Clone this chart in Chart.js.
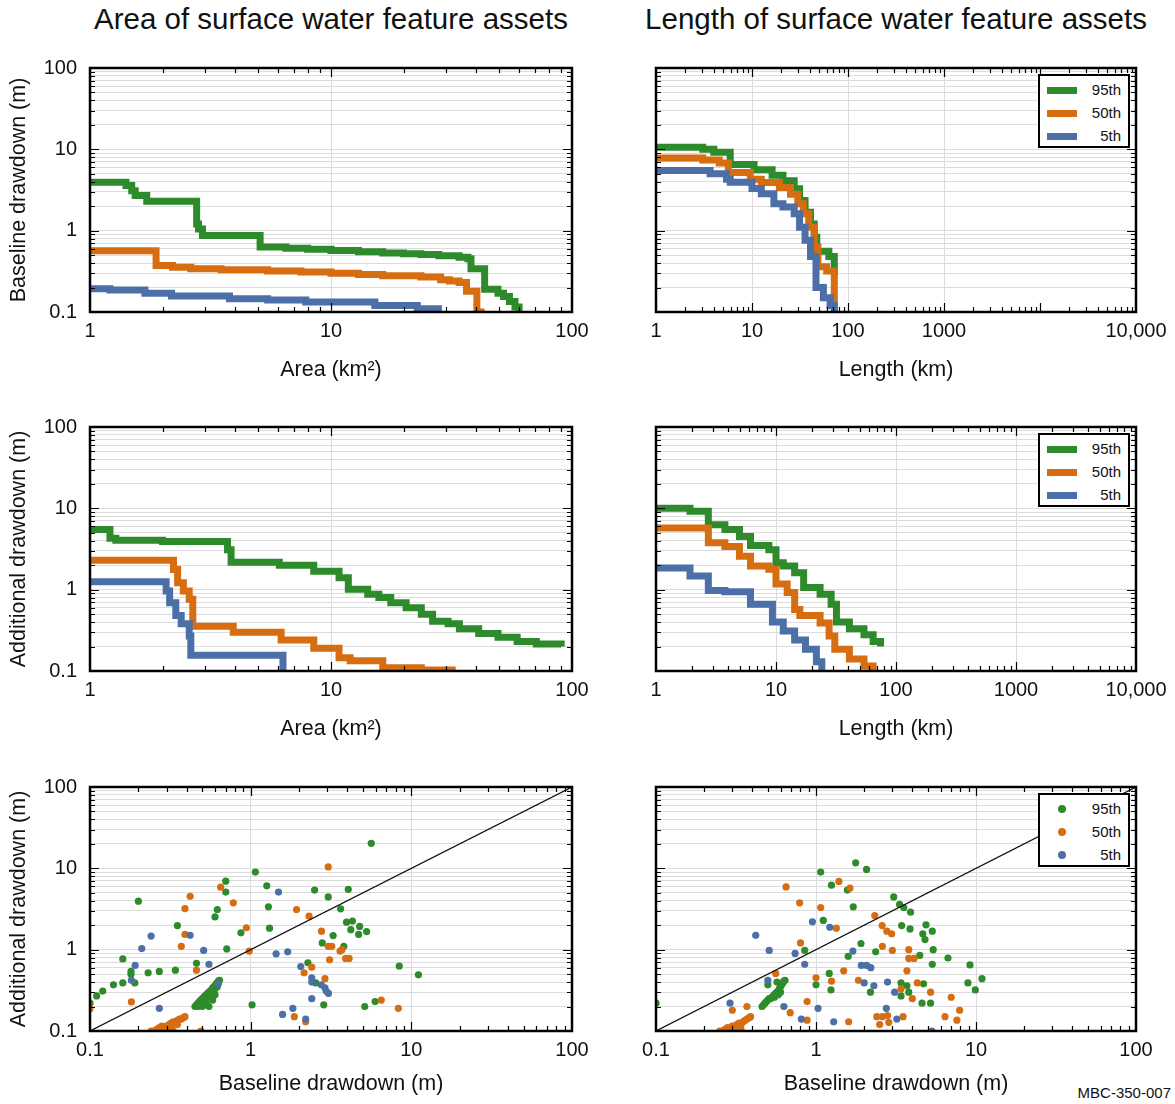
<!DOCTYPE html>
<html>
<head>
<meta charset="utf-8">
<script src="https://cdn.jsdelivr.net/npm/chart.js@4.4.1/dist/chart.umd.min.js"></script>
<style>
  body { margin: 0; background: #fff; font-family: "Liberation Sans", Arial, sans-serif; color: #111; }
  #page { position: relative; width: 1175px; height: 1104px; overflow: hidden; background: #fff; }
  .panel { position: absolute; }
  .head { position: absolute; top: 2px; font-size: 29.5px; white-space: nowrap; transform: translateX(-50%); }
  .legend { position: absolute; width: 88px; height: 70px; border: 2px solid #000; background: #fff; font-size: 15px; }
  .legend .sw { position: absolute; left: 7px; width: 30px; height: 7px; }
  .legend .dot { position: absolute; left: 18px; width: 8px; height: 8px; border-radius: 50%; }
  .legend .lb { position: absolute; right: 7px; line-height: 18px; }
  .code { position: absolute; right: 4px; top: 1084px; font-size: 15px; }
</style>
</head>
<body>
<div id="page">
  <div class="head" style="left:331px">Area of surface water feature assets</div>
  <div class="head" style="left:896px">Length of surface water feature assets</div>
  <div class="code">MBC-350-007</div>
</div>
<script>
// series
const seriesNames = ["95th", "50th", "5th"];
const seriesColors = ["#2e8b2b", "#d66d10", "#4c6fa8"];

// tick labels
const drawdownTicks = [[0.1, "0.1"], [1, "1"], [10, "10"], [100, "100"]];
const areaTicks = [[1, "1"], [10, "10"], [100, "100"]];
const lengthTicksTop = [[1, "1"], [10, "10"], [100, "100"], [1000, "1000"], [100000, "10,000"]];
const lengthTicksMid = [[1, "1"], [10, "10"], [100, "100"], [1000, "1000"], [10000, "10,000"]];

// baseline drawdown vs area (x km2, y m), stepped
const areaBase95 = [[1,3.95],[1.41,3.6],[1.49,3.1],[1.54,2.7],[1.72,2.3],[2.77,1.21],[2.82,1.05],[2.93,0.87],[5.08,0.63],[6.5,0.61],[8,0.59],[10,0.57],[13,0.55],[16.4,0.53],[20,0.52],[23.6,0.51],[28,0.49],[34,0.47],[37,0.45],[38.1,0.34],[43.4,0.19],[49.3,0.17],[52,0.155],[55,0.135],[58,0.115],[60.3,0.09]];
const areaBase50 = [[1,0.566],[1.88,0.374],[2.2,0.355],[2.62,0.34],[3.5,0.33],[5.46,0.32],[7.5,0.31],[10,0.30],[13,0.29],[16.4,0.28],[23.6,0.27],[28.5,0.25],[31,0.24],[34,0.23],[36.5,0.18],[40.3,0.1],[43.4,0.1]];
const areaBase5 = [[1,0.193],[1.21,0.187],[1.69,0.17],[2.18,0.157],[3.79,0.146],[5.46,0.14],[7.86,0.133],[15.2,0.12],[22.8,0.11],[27.9,0.09]];

// baseline drawdown vs length (x km)
const lenBase95 = [[1,10.6],[3.07,10.0],[4.0,9.2],[5.93,6.5],[10.5,5.6],[16.2,4.8],[21,4.1],[27.5,3.27],[31.3,2.35],[35.7,1.69],[40.7,1.21],[44.5,0.83],[47.3,0.56],[63.2,0.48],[72,0.28]];
const lenBase50 = [[1,7.85],[3.07,7.4],[4.56,6.8],[5.67,5.2],[9.6,4.3],[12.5,3.9],[19.3,3.4],[25.2,2.8],[30,2.14],[34.2,1.62],[39,1.1],[44.5,0.63],[48.6,0.36],[60,0.32],[72,0.05]];
const lenBase5 = [[1,5.5],[3.66,5.0],[5.43,4.3],[5.93,3.95],[10,3.3],[12.5,2.84],[16.9,2.14],[21,1.95],[27.5,1.62],[31.3,1.1],[35.7,0.76],[40.7,0.48],[46.4,0.2],[55.4,0.15],[65,0.12],[72,0.09]];

// additional drawdown vs area
const areaAdd95 = [[1,5.5],[1.21,4.3],[1.28,4.05],[2,3.9],[3.72,3.1],[3.85,2.18],[6.1,2.0],[8.48,1.69],[10.8,1.4],[11.8,1.01],[14.2,0.88],[15.8,0.8],[17.7,0.69],[20.5,0.6],[23.7,0.5],[26.4,0.41],[30.6,0.38],[34.1,0.33],[41,0.29],[49.3,0.26],[59.2,0.23],[71.1,0.215],[90.2,0.2]];
const areaAdd50 = [[1,2.3],[2.22,1.77],[2.31,1.22],[2.44,0.96],[2.58,0.76],[2.67,0.356],[3.93,0.30],[6.21,0.24],[8.48,0.19],[10.8,0.146],[12,0.134],[16.4,0.11],[23.7,0.103],[32.9,0.103]];
const areaAdd5 = [[1,1.25],[2.07,0.96],[2.14,0.69],[2.27,0.48],[2.39,0.38],[2.58,0.27],[2.62,0.156],[6.32,0.09]];

// additional drawdown vs length
const lenAdd95 = [[1,10.0],[1.92,9.2],[2.73,6.3],[3.75,5.5],[4.96,4.5],[6.13,3.5],[8.71,3.1],[10,2.14],[11.5,1.95],[14.3,1.62],[17,1.06],[23.3,0.88],[28.8,0.66],[31.9,0.40],[40.9,0.33],[54.1,0.28],[64.5,0.23],[74.3,0.2]];
const lenAdd50 = [[1,5.75],[2.73,3.77],[3.75,3.4],[4.96,2.57],[6.13,1.95],[8.71,1.78],[10,1.17],[12.4,0.92],[14.3,0.57],[15.8,0.48],[23.3,0.39],[27.7,0.27],[30.9,0.185],[40.9,0.14],[54.1,0.115],[64.5,0.08]];
const lenAdd5 = [[1,1.85],[1.92,1.47],[2.73,0.98],[3.75,0.94],[6.13,0.66],[9.34,0.4],[11.5,0.31],[14.3,0.24],[17.6,0.185],[21.7,0.13],[24.1,0.08]];

// baseline (x) vs additional (y) drawdown, area assets
const scatArea95 = [[0.10,0.22],[0.11,0.27],[0.12,0.31],[0.14,0.37],[0.16,0.39],[0.16,0.77],[0.18,0.54],[0.18,0.50],[0.19,0.39],[0.20,3.95],[0.23,0.52],[0.27,0.54],[0.34,0.56],[0.35,1.98],[0.46,0.68],[0.70,6.95],[0.70,5.1],[0.62,3.12],[0.60,2.53],[0.71,1.02],[0.87,1.61],[1.07,9.0],[1.26,6.1],[1.29,3.36],[1.31,1.84],[1.02,0.21],[2.5,5.4],[3.04,4.45],[3.63,3.18],[4.05,5.5],[3.95,2.18],[4.3,2.25],[4.2,1.76],[4.77,1.93],[4.7,1.54],[5.27,1.67],[3.26,1.49],[2.79,1.21],[3.8,1.1],[2.27,0.69],[2.54,0.39],[2.85,0.21],[5.13,0.2],[5.95,0.23],[8.41,0.63],[11.07,0.49],[5.63,20.3],
  [0.45,0.20],[0.46,0.21],[0.47,0.20],[0.47,0.22],[0.48,0.23],[0.49,0.22],[0.49,0.24],[0.50,0.23],[0.50,0.25],[0.51,0.26],[0.51,0.24],[0.52,0.27],[0.52,0.25],[0.53,0.28],[0.53,0.26],[0.54,0.29],[0.54,0.27],[0.55,0.30],[0.55,0.28],[0.56,0.31],[0.56,0.29],[0.57,0.32],[0.57,0.30],[0.58,0.34],[0.58,0.31],[0.59,0.35],[0.60,0.36],[0.60,0.33],[0.61,0.38],[0.62,0.39],[0.62,0.35],[0.63,0.41],[0.64,0.42],[0.55,0.20],[0.58,0.24],[0.50,0.20],[0.60,0.28],[0.53,0.22]];
const scatArea50 = [[0.10,0.188],[0.181,0.228],[0.37,1.1],[0.39,3.2],[0.39,1.54],[0.42,4.54],[0.46,0.56],[0.65,5.86],[0.78,3.77],[0.94,1.86],[0.98,0.96],[1.93,3.12],[2.31,2.58],[2.76,1.69],[3.04,10.4],[3.04,1.1],[3.2,1.1],[3.1,0.75],[3.6,0.96],[3.7,1.0],[3.9,0.78],[4.1,0.78],[2.4,0.61],[2.15,0.52],[2.9,0.44],[1.87,0.15],[2.2,0.13],[6.5,0.24],[8.3,0.19],[0.49,0.1],
  [0.24,0.10],[0.25,0.10],[0.26,0.105],[0.27,0.10],[0.27,0.11],[0.28,0.105],[0.28,0.115],[0.29,0.11],[0.30,0.115],[0.30,0.105],[0.31,0.12],[0.31,0.11],[0.32,0.125],[0.32,0.115],[0.33,0.13],[0.33,0.12],[0.34,0.13],[0.35,0.135],[0.36,0.14],[0.37,0.14],[0.38,0.145],[0.39,0.15],[0.30,0.10],[0.33,0.10],[0.35,0.12]];
const scatArea5 = [[0.191,0.64],[0.181,0.42],[0.21,1.03],[0.24,1.47],[0.27,0.19],[0.42,1.5],[0.51,0.98],[0.55,0.66],[0.63,0.38],[1.49,5.1],[1.44,0.89],[1.7,0.94],[1.58,0.16],[1.83,0.19],[2.05,0.62],[2.2,0.14],[2.4,0.45],[2.4,0.4],[2.4,0.25],[2.75,0.37],[2.9,0.34],[2.95,0.31],[3.05,0.29]];

// baseline (x) vs additional (y) drawdown, length assets
const scatLen95 = [[0.1,0.22],[1.07,9.0],[1.77,11.7],[2.07,9.7],[1.25,6.2],[1.57,5.4],[3.06,4.45],[3.33,3.6],[3.54,3.3],[3.9,2.89],[1.71,3.36],[1.11,2.29],[3.43,1.98],[3.87,1.8],[4.87,2.02],[4.65,1.57],[4.8,1.33],[5.33,1.69],[1.91,1.19],[2.36,0.94],[1.59,0.83],[0.85,0.98],[4.45,0.85],[5.4,1.0],[6.68,0.79],[5.33,0.66],[9.17,0.65],[1.21,0.51],[1.0,0.37],[1.24,0.32],[2.19,0.30],[3.4,0.39],[3.7,0.36],[3.4,0.27],[3.8,0.3],[4.6,0.22],[5.2,0.22],[8.9,0.39],[9.9,0.32],[10.9,0.44],[4.7,0.38],[0.5,0.37],
  [0.46,0.20],[0.47,0.21],[0.48,0.22],[0.49,0.23],[0.50,0.24],[0.51,0.25],[0.52,0.25],[0.53,0.26],[0.54,0.27],[0.55,0.28],[0.55,0.26],[0.56,0.29],[0.57,0.30],[0.58,0.31],[0.58,0.28],[0.59,0.33],[0.60,0.35],[0.61,0.37],[0.62,0.39],[0.63,0.41],[0.64,0.42],[0.57,0.40],[0.60,0.30]];
const scatLen50 = [[0.65,5.9],[1.39,6.9],[1.63,5.7],[0.79,3.77],[1.07,3.3],[2.33,2.63],[1.34,1.84],[2.59,1.98],[2.77,1.69],[2.97,1.57],[0.8,1.21],[2.6,1.1],[3.0,0.98],[3.8,1.0],[3.8,0.78],[4.1,0.78],[3.7,0.55],[4.3,0.39],[1.49,0.55],[1.84,0.42],[1.25,0.41],[1.0,0.45],[0.56,0.51],[3.4,0.33],[5.2,0.3],[4.0,0.25],[7.0,0.26],[0.88,0.23],[0.69,0.168],[0.37,0.2],[0.3,0.18],[7.9,0.18],[6.4,0.15],[2.4,0.15],[2.6,0.15],[2.8,0.155],[3.5,0.15],[7.6,0.136],[0.88,0.136],[1.6,0.13],[2.5,0.12],[2.85,0.128],
  [0.25,0.10],[0.26,0.10],[0.27,0.105],[0.28,0.11],[0.29,0.105],[0.30,0.115],[0.31,0.11],[0.32,0.12],[0.33,0.125],[0.34,0.12],[0.35,0.13],[0.36,0.135],[0.37,0.14],[0.38,0.145],[0.39,0.15],[0.31,0.10],[0.34,0.105]];
const scatLen5 = [[0.42,1.5],[0.51,0.98],[0.74,0.9],[0.85,0.66],[0.95,2.2],[1.22,1.88],[0.5,0.42],[0.29,0.22],[0.63,0.2],[0.81,0.14],[1.03,0.19],[1.29,0.13],[1.7,0.96],[1.92,0.64],[2.07,0.64],[2.2,0.6],[2.0,0.39],[2.3,0.36],[2.8,0.4],[3.1,0.3],[2.75,0.19],[3.2,0.14],[5.3,0.1]];

const oneToOne = [[0.1, 0.1], [100, 100]];

Chart.defaults.font.family = '"Liberation Sans", Arial, sans-serif';
Chart.defaults.color = "#111";

const GRID = "#dcdcdc";
const PLOT_H = 244;
const PAD_TOP = 28; // room above the plot for the "100" label and its padding

const pts = arr => arr.map(([x, y]) => ({ x, y }));

function logTicks(min, max) {
  const out = [];
  for (let e = Math.floor(Math.log10(min)); e <= Math.ceil(Math.log10(max)); e++) {
    for (let m = 1; m < 10; m++) {
      const v = +(m * Math.pow(10, e)).toPrecision(6);
      if (v >= min * 0.999 && v <= max * 1.001) out.push({ value: v, major: m === 1 });
    }
  }
  return out;
}

function labelFor(v, labels) {
  const hit = labels.find(l => Math.abs(l[0] - v) / l[0] < 1e-6);
  return hit ? hit[1] : "";
}

// frame and inward tick marks on all four sides
const framePlugin = {
  id: "frame",
  afterDraw(chart) {
    const { ctx, chartArea: a, scales } = chart;
    ctx.save();
    ctx.strokeStyle = "#000";
    ctx.lineWidth = 1.2;
    ctx.beginPath();
    const xs = scales.x, ys = scales.y;
    xs.ticks.forEach(t => {
      if (t.value <= xs.min * 1.001 || t.value >= xs.max * 0.999) return;
      const px = Math.round(xs.getPixelForValue(t.value)) + 0.5;
      const len = t.major ? 9 : 5;
      ctx.moveTo(px, a.bottom); ctx.lineTo(px, a.bottom - len);
      ctx.moveTo(px, a.top); ctx.lineTo(px, a.top + len);
    });
    ys.ticks.forEach(t => {
      if (t.value <= ys.min * 1.001 || t.value >= ys.max * 0.999) return;
      const py = Math.round(ys.getPixelForValue(t.value)) + 0.5;
      const len = t.major ? 9 : 5;
      ctx.moveTo(a.left, py); ctx.lineTo(a.left + len, py);
      ctx.moveTo(a.right, py); ctx.lineTo(a.right - len, py);
    });
    ctx.stroke();
    ctx.lineWidth = 2.5;
    ctx.strokeRect(a.left, a.top, a.right - a.left, a.bottom - a.top);
    ctx.restore();
  }
};

function makePanel(cfg) {
  const wrap = document.createElement("div");
  wrap.className = "panel";
  const height = PAD_TOP + PLOT_H + cfg.xAxisH;
  wrap.style.left = cfg.left + "px";
  wrap.style.top = (cfg.plotTop - PAD_TOP) + "px";
  const canvas = document.createElement("canvas");
  canvas.width = cfg.width;
  canvas.height = height;
  wrap.appendChild(canvas);
  document.getElementById("page").appendChild(wrap);

  const datasets = [];
  if (cfg.diagonal) {
    datasets.push({
      type: "line", data: pts(oneToOne), borderColor: "#111", borderWidth: 1.2,
      pointRadius: 0, clip: 0, order: 0
    });
  }
  cfg.series.forEach((s, i) => {
    if (cfg.kind === "step") {
      datasets.push({
        type: "line", label: seriesNames[i], data: pts(s), borderColor: seriesColors[i],
        borderWidth: 7, stepped: true, pointRadius: 0, fill: false, clip: 0, order: 3 - i
      });
    } else {
      datasets.push({
        type: "scatter", label: seriesNames[i], data: pts(s), backgroundColor: seriesColors[i],
        borderWidth: 0, pointRadius: 3.6, clip: 0, order: 3 - i
      });
    }
  });

  const axisTitleFont = { size: 21.5 };
  const tickFont = { size: 20 };
  new Chart(canvas, {
    type: "scatter",
    data: { datasets },
    plugins: [framePlugin],
    options: {
      responsive: false,
      animation: false,
      events: [],
      layout: { padding: { top: PAD_TOP, right: cfg.padRight, left: 0, bottom: 0 } },
      plugins: { legend: { display: false }, tooltip: { enabled: false } },
      scales: {
        x: {
          type: "logarithmic", min: cfg.xMin, max: cfg.xMax,
          afterBuildTicks: s => { s.ticks = logTicks(cfg.xMin, cfg.xMax); },
          afterFit: s => { s.height = cfg.xAxisH; },
          ticks: { autoSkip: false, maxRotation: 0, padding: 7.5, font: tickFont, color: "#111",
                   callback: v => labelFor(v, cfg.xLabels) },
          grid: { drawTicks: false, lineWidth: 1,
                  color: c => (c.tick && c.tick.label) ? GRID : "rgba(0,0,0,0)" },
          border: { display: false },
          title: { display: true, text: cfg.xTitle, font: axisTitleFont, color: "#111",
                   padding: { top: 0, bottom: cfg.xAxisH - 12.9 - cfg.xTitleOffset } }
        },
        y: {
          type: "logarithmic", min: 0.1, max: 100,
          afterBuildTicks: s => { s.ticks = logTicks(0.1, 100); },
          afterFit: s => { s.width = cfg.yAxisW; },
          ticks: { display: cfg.yLabels, autoSkip: false, padding: 13, font: tickFont, color: "#111",
                   callback: v => labelFor(v, drawdownTicks) },
          grid: { drawTicks: false, lineWidth: 1, color: GRID },
          border: { display: false },
          title: { display: !!cfg.yTitle, text: cfg.yTitle || "", font: axisTitleFont, color: "#111",
                   padding: { top: 6.1, bottom: 0 } }
        }
      }
    }
  });

  if (cfg.legend) addLegend(cfg.plotTop, cfg.kind);
}

function addLegend(plotTop, kind) {
  const box = document.createElement("div");
  box.className = "legend";
  box.style.left = "1038px";
  box.style.top = (plotTop + 6) + "px";
  seriesNames.forEach((name, i) => {
    const cy = 14 + i * 23;
    const mark = document.createElement("div");
    if (kind === "step") {
      mark.className = "sw";
      mark.style.top = (cy - 3.5) + "px";
    } else {
      mark.className = "dot";
      mark.style.top = (cy - 4) + "px";
    }
    mark.style.background = seriesColors[i];
    const lb = document.createElement("div");
    lb.className = "lb";
    lb.style.top = (cy - 9) + "px";
    lb.textContent = name;
    box.appendChild(mark);
    box.appendChild(lb);
  });
  document.getElementById("page").appendChild(box);
}

const rowTops = [68, 427, 787];
const leftCol = { left: 0, width: 600, padRight: 28, yAxisW: 90, yLabels: true };
const rightCol = { left: 626, width: 549, padRight: 39, yAxisW: 30, yLabels: false, legend: true };

makePanel({ ...leftCol, plotTop: rowTops[0], xAxisH: 75, xTitleOffset: 58, kind: "step",
  xMin: 1, xMax: 100, xLabels: areaTicks, xTitle: "Area (km\u00B2)", yTitle: "Baseline drawdown (m)",
  series: [areaBase95, areaBase50, areaBase5] });
makePanel({ ...rightCol, plotTop: rowTops[0], xAxisH: 75, xTitleOffset: 58, kind: "step",
  xMin: 1, xMax: 100000, xLabels: lengthTicksTop, xTitle: "Length (km)",
  series: [lenBase95, lenBase50, lenBase5] });
makePanel({ ...leftCol, plotTop: rowTops[1], xAxisH: 75, xTitleOffset: 58, kind: "step",
  xMin: 1, xMax: 100, xLabels: areaTicks, xTitle: "Area (km\u00B2)", yTitle: "Additional drawdown (m)",
  series: [areaAdd95, areaAdd50, areaAdd5] });
makePanel({ ...rightCol, plotTop: rowTops[1], xAxisH: 75, xTitleOffset: 58, kind: "step",
  xMin: 1, xMax: 10000, xLabels: lengthTicksMid, xTitle: "Length (km)",
  series: [lenAdd95, lenAdd50, lenAdd5] });
makePanel({ ...leftCol, plotTop: rowTops[2], xAxisH: 72, xTitleOffset: 53, kind: "scatter", diagonal: true,
  xMin: 0.1, xMax: 100, xLabels: drawdownTicks, xTitle: "Baseline drawdown (m)", yTitle: "Additional drawdown (m)",
  series: [scatArea95, scatArea50, scatArea5] });
makePanel({ ...rightCol, plotTop: rowTops[2], xAxisH: 72, xTitleOffset: 53, kind: "scatter", diagonal: true,
  xMin: 0.1, xMax: 100, xLabels: drawdownTicks, xTitle: "Baseline drawdown (m)",
  series: [scatLen95, scatLen50, scatLen5] });
</script>
</body>
</html>
